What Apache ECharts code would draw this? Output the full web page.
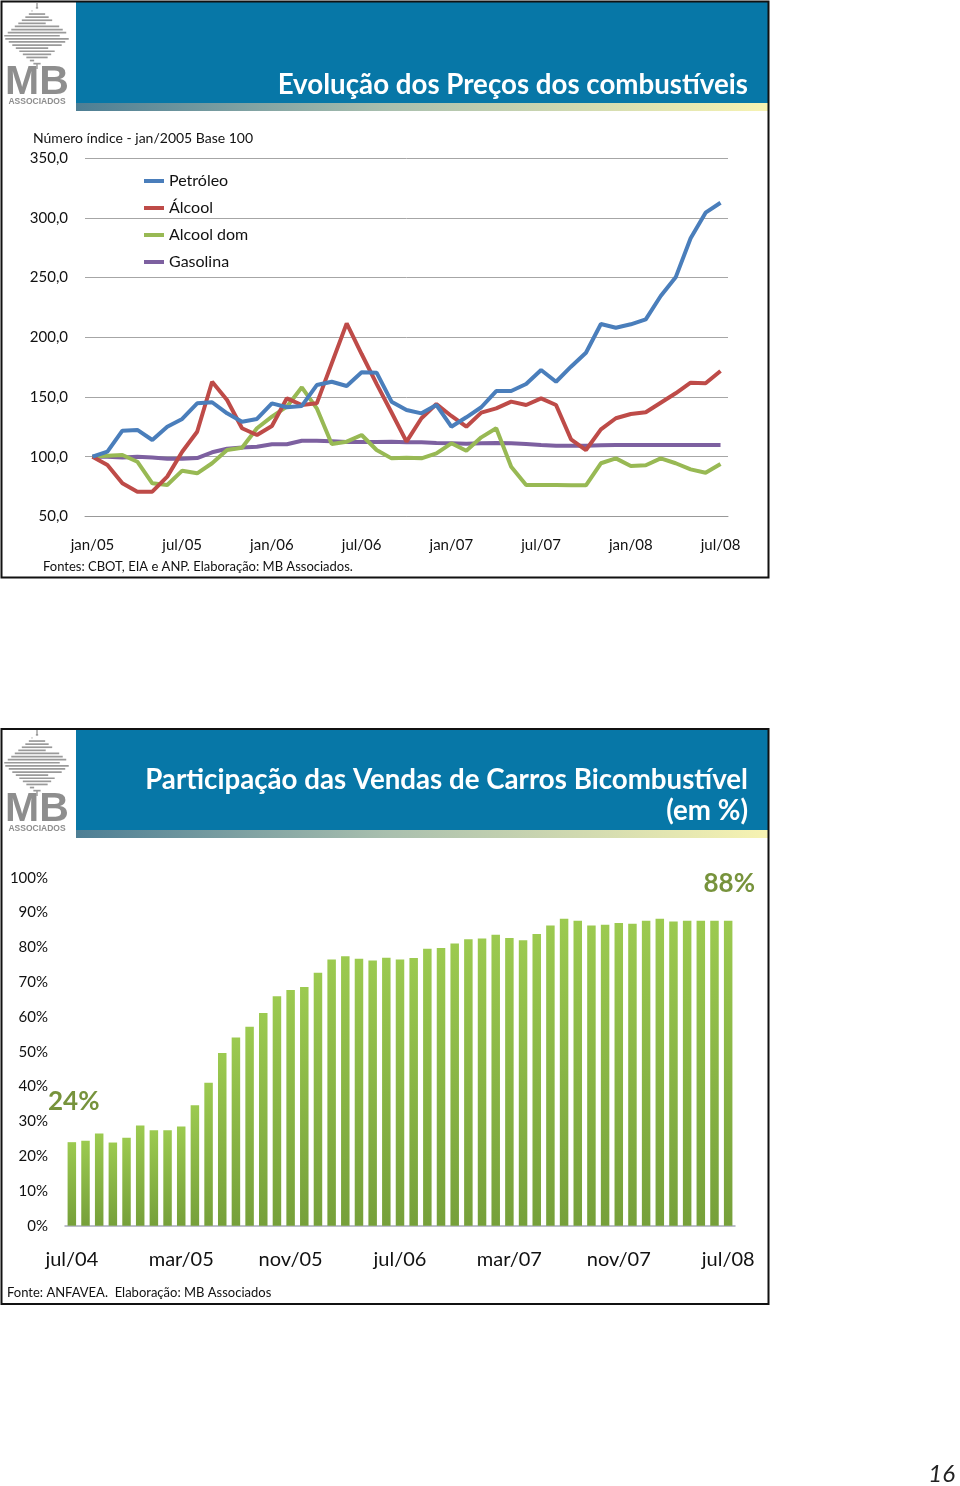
<!DOCTYPE html>
<html><head><meta charset="utf-8">
<script src="https://cdn.jsdelivr.net/npm/echarts@6/dist/echarts.min.js"></script>
<style>html,body{margin:0;padding:0;background:#fff}#c{width:960px;height:1486px}</style>
</head><body><div id="c"></div><script>
// ---------- DATA ----------
const monthNames = ['jan','fev','mar','abr','mai','jun','jul','ago','set','out','nov','dez'];
// Chart 1: jan/05 .. jul/08 (43 months), index jan/2005 = 100
const priceCategories = [];
for (let y = 5; y <= 8; y++) for (let m = 0; m < 12; m++) { if (y === 8 && m > 6) break; priceCategories.push(monthNames[m] + '/0' + y); }
const seriesNames = ['Petróleo', 'Álcool', 'Alcool dom', 'Gasolina'];
const petroleo = [100,104.2,121.8,122.4,114,125.1,131.6,144.7,145.6,136.3,
  129.3,131.6,144.7,141.4,142.5,160,162.8,159.2,170.7,170.4,
  146.1,139.1,136.3,143.3,125.1,133,141.4,155,155,160.9,
  172.6,162.8,175.4,187.1,211.1,208,210.9,215,234.6,250.2,
  282.9,304.4,312.7];
const alcool = [100,93,77.7,70.7,70.7,83.3,104.2,120.9,162.8,147.5,
  123.8,118.2,125.7,148.9,143.3,144.7,178.2,211.7,186,161,
  137,112.6,132.2,144.1,134.1,125.1,136.9,140.5,146.1,143.3,
  148.9,143.3,114.6,105.6,122.9,132.2,135.8,137.2,145.2,153.1,
  162,161.5,171.8];
const alcoolDom = [100,100.8,101.4,95.8,77.7,76.3,88.3,86.1,94.5,105.6,
  107.5,123.8,133.5,141.9,158.1,140.5,110.6,112.6,118.2,105.6,
  98.6,99.2,98.6,102.8,111.2,105,116.2,123.8,91.6,76.3,
  76.3,76.3,76,76,94.5,98.6,92.2,92.8,98.6,94.5,
  89.4,86.6,93.9];
const gasolina = [100,100,99.4,100,99.4,98.3,98.3,98.9,103.7,106.7,
  107.8,108.4,110.4,110.4,113.4,113.4,112.9,112.3,112.3,112.3,
  112.6,112.1,112.1,111.5,111.2,110.9,111.2,111.5,111.2,110.6,
  109.8,109.2,109.2,109.2,109.5,109.8,109.8,109.8,109.8,109.8,
  109.8,109.8,109.8];
const priceTicks = [50,100,150,200,250,300,350];

// Chart 2: jul/04 .. jul/08 (49 months), share of flex-fuel cars in sales (%)
const shareCategories = [];
for (let i = 0; i < 49; i++) { const t = 6 + i; shareCategories.push(monthNames[t % 12] + '/0' + (4 + Math.floor(t / 12))); }
const flexShare = [24.0,24.4,26.5,23.9,25.3,28.8,27.4,27.4,28.5,34.6,
  41.1,49.6,54.1,57.2,61.1,65.9,67.7,68.6,72.7,76.5,
  77.4,76.7,76.2,77.0,76.5,76.9,79.6,79.8,81.1,82.3,
  82.5,83.6,82.7,82.0,83.8,86.3,88.2,87.6,86.3,86.5,
  87.0,86.8,87.6,88.2,87.4,87.6,87.6,87.6,87.6];

// ---------- STYLE ----------
const FONT = 'Lato, "Open Sans", sans-serif';
const lineColors = ['#4a7ebb', '#be4b48', '#98b954', '#7d60a0'];
const headerBlue = '#0777a7';

function logo(y0) {
  const els = [];
  const cy = y0 + 34, half = 30;
  for (let k = 0; k < 19; k++) {
    const y = y0 + 5 + k * 3.1;
    const w = 34 * Math.max(0, 1 - Math.abs(y - cy) / half);
    if (w < 1) continue;
    const gap = (k % 4 === 1) ? 10 : 0;
    els.push({ type: 'rect', shape: { x: 37 - w, y: y, width: 2 * w - gap, height: 1.7 }, style: { fill: '#9a9a9a' }, silent: true });
  }
  els.push({ type: 'rect', shape: { x: 36.3, y: y0 + 1, width: 1.4, height: 5 }, style: { fill: '#9a9a9a' } });
  els.push({ type: 'rect', shape: { x: 36.3, y: y0 + 62, width: 1.4, height: 5 }, style: { fill: '#9a9a9a' } });
  els.push({ type: 'text', x: 37, y: y0 + 81, style: { text: 'MB', fill: '#8e8e8e', font: 'bold 41px "Liberation Sans", Arial, sans-serif', textAlign: 'center', textVerticalAlign: 'middle' } });
  els.push({ type: 'text', x: 37, y: y0 + 100, style: { text: 'ASSOCIADOS', fill: '#8e8e8e', font: 'bold 8.5px "Liberation Sans", Arial, sans-serif', textAlign: 'center', textVerticalAlign: 'middle' } });
  return els;
}
function header(y0, lines) {
  const els = [
    { type: 'rect', shape: { x: 76, y: y0, width: 692, height: 101 }, style: { fill: headerBlue } },
    { type: 'rect', shape: { x: 76, y: y0 + 101, width: 692, height: 8 }, style: { fill: new echarts.graphic.LinearGradient(0, 0, 1, 0, [{ offset: 0, color: '#4d7e94' }, { offset: 0.45, color: '#a9bfae' }, { offset: 1, color: '#f7f3b2' }]) } }
  ];
  lines.forEach(l => els.push({ type: 'text', x: 748, y: y0 + l.dy, style: { text: l.t, fill: '#ffffff', font: 'bold 27.7px ' + FONT, textAlign: 'right', textVerticalAlign: 'middle' } }));
  return els.concat(logo(y0));
}
function txt(x, y, t, size, extra) {
  return Object.assign({ type: 'text', x: x, y: y, style: Object.assign({ text: t, fill: '#111', font: size + 'px ' + FONT, textVerticalAlign: 'middle' }, extra || {}) });
}

const chart = echarts.init(document.getElementById('c'), null, { renderer: 'canvas' });
const graphics = [].concat(
  header(2, [{ t: 'Evolução dos Preços dos combustíveis', dy: 83 }]),
  header(729, [{ t: 'Participação das Vendas de Carros Bicombustível', dy: 51 }, { t: '(em %)', dy: 82 }]),
  [
    { type: 'rect', shape: { x: 1.5, y: 1.5, width: 767, height: 576 }, style: { fill: 'none', stroke: '#111', lineWidth: 2 } },
    { type: 'rect', shape: { x: 1.5, y: 729, width: 767, height: 575 }, style: { fill: 'none', stroke: '#111', lineWidth: 2 } },
    txt(33, 138, 'Número índice - jan/2005 Base 100', 14),
    txt(43, 567, 'Fontes: CBOT, EIA e ANP. Elaboração: MB Associados.', 13),
    txt(7, 1293, 'Fonte: ANFAVEA.  Elaboração: MB Associados', 13),
    txt(955, 1474, '16', 24, { font: 'italic 24px ' + FONT, textAlign: 'right', fill: '#222' }),
    txt(48, 1102, Math.round(flexShare[0]) + '%', 26, { font: 'bold 26px ' + FONT, fill: '#77933c' }),
    txt(755, 884, Math.round(flexShare[flexShare.length - 1]) + '%', 26, { font: 'bold 26px ' + FONT, fill: '#77933c', textAlign: 'right' })
  ]
);

const option = {
  animation: false,
  backgroundColor: '#ffffff',
  textStyle: { fontFamily: FONT },
  grid: [
    { left: 85, top: 158.2, width: 643, height: 358.2 },
    { left: 65, top: 877.7, width: 670, height: 348 }
  ],
  legend: {
    data: seriesNames.map(n => ({ name: n, icon: 'rect' })), orient: 'vertical', left: 144, top: 172,
    itemWidth: 20, itemHeight: 4, itemGap: 9, padding: 0,
    textStyle: { fontSize: 16, color: '#111', fontFamily: FONT, lineHeight: 18 }
  },
  xAxis: [
    { type: 'category', gridIndex: 0, data: priceCategories, boundaryGap: true,
      axisLine: { lineStyle: { color: '#999', width: 1 } },
      axisTick: { inside: true, interval: 5, length: 6, lineStyle: { color: '#999' } },
      axisLabel: { interval: 5, color: '#111', fontSize: 15, margin: 21, fontFamily: FONT } },
    { type: 'category', gridIndex: 1, data: shareCategories, boundaryGap: true,
      axisLine: { lineStyle: { color: '#a7a9bb', width: 1.5 } },
      axisTick: { inside: true, interval: 7, length: 6, lineStyle: { color: '#a7a9bb' } },
      axisLabel: { interval: 7, color: '#111', fontSize: 20, margin: 24, fontFamily: FONT } }
  ],
  yAxis: [
    { type: 'value', gridIndex: 0, min: priceTicks[0], max: priceTicks[priceTicks.length - 1], interval: 50,
      axisLine: { show: false }, axisTick: { show: false },
      splitLine: { lineStyle: { color: '#a6a6a6', width: 1 } },
      axisLabel: { color: '#111', fontSize: 15, margin: 17, fontFamily: FONT, formatter: v => v.toFixed(1).replace('.', ',') } },
    { type: 'value', gridIndex: 1, min: 0, max: 100, interval: 10,
      axisLine: { show: false }, axisTick: { show: false }, splitLine: { show: false },
      axisLabel: { color: '#111', fontSize: 15, margin: 17, fontFamily: FONT, formatter: '{value}%' } }
  ],
  series: [
    { name: seriesNames[0], type: 'line', data: petroleo },
    { name: seriesNames[1], type: 'line', data: alcool },
    { name: seriesNames[2], type: 'line', data: alcoolDom },
    { name: seriesNames[3], type: 'line', data: gasolina }
  ].map((s, i) => Object.assign(s, { xAxisIndex: 0, yAxisIndex: 0, symbol: 'none', z: 4 - i,
      color: lineColors[i], lineStyle: { width: 4, color: lineColors[i] } })).concat([
    { name: 'Participação', type: 'bar', xAxisIndex: 1, yAxisIndex: 1, data: flexShare, barWidth: 8.5,
      itemStyle: { color: new echarts.graphic.LinearGradient(0, 0, 0, 1, [{ offset: 0, color: '#9cca50' }, { offset: 1, color: '#76a03a' }]) } }
  ]),
  graphic: { elements: graphics }
};
chart.setOption(option);
</script></body></html>
